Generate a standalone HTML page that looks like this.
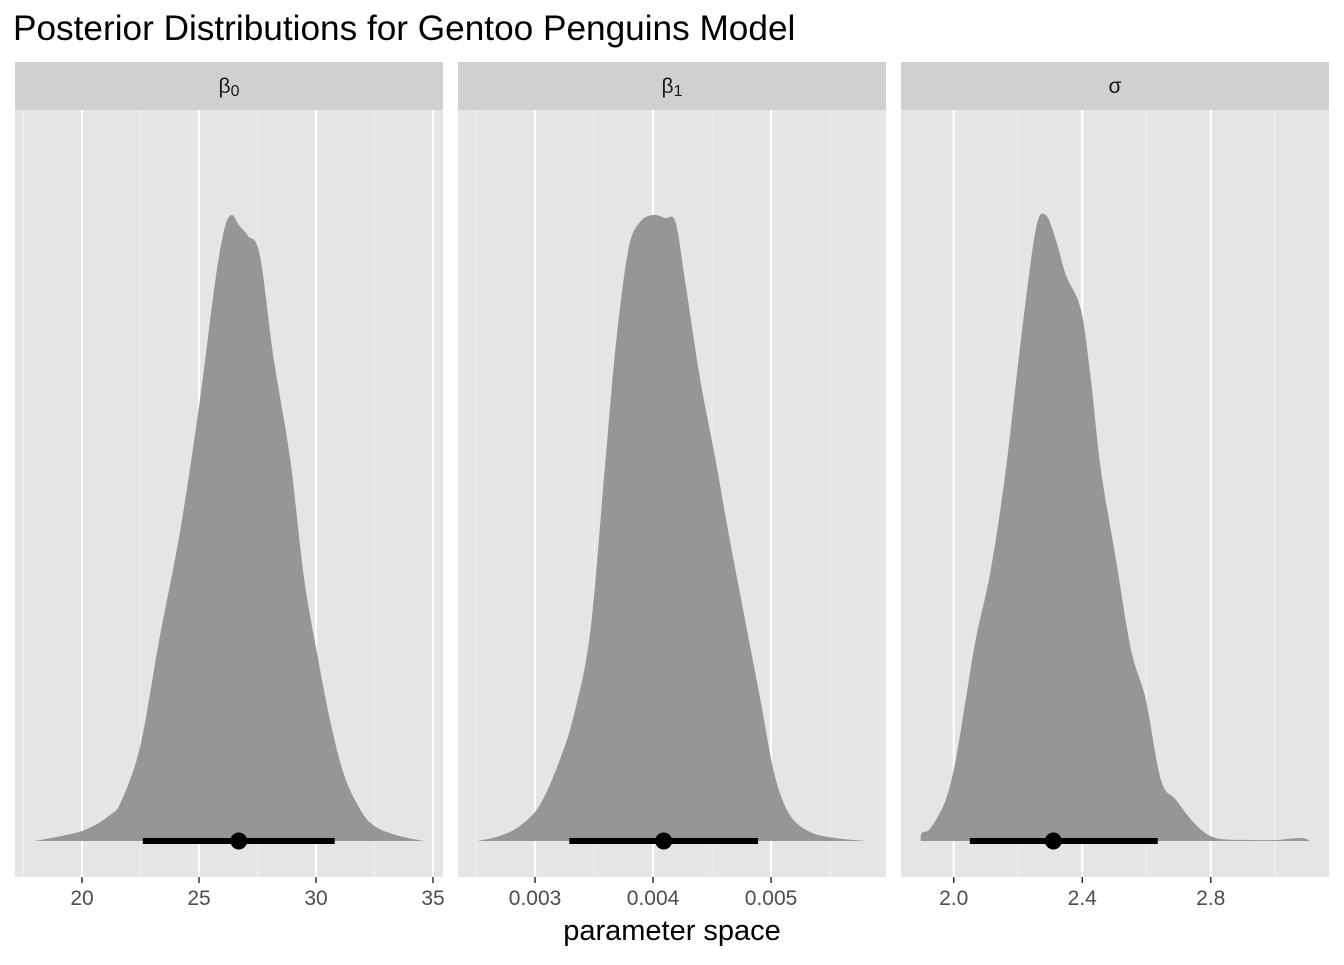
<!DOCTYPE html>
<html><head><meta charset="utf-8"><style>
body{margin:0;background:#fff;width:1344px;height:960px;overflow:hidden}
svg text{font-family:"Liberation Sans",sans-serif}
</style></head><body>
<svg id="c" width="1344" height="960">
<text x="13" y="40" font-size="35.2" fill="#000">Posterior Distributions for Gentoo Penguins Model</text>
<text x="672" y="940" font-size="29" text-anchor="middle" fill="#000">parameter space</text>
</svg>
<script>
// panel 1: beta0
const b0X=[17.99,20,21.2,21.7,22.5,23.3,24.2,25.04,25.7,26.1,26.4,26.7,27.1,27.6,28.2,28.9,29.5,30.1,30.6,31.2,31.9,32.5,33.4,34.6];
const b0D=[0,10,26,41,96,201,311,441,561,613,626,616,605,586,481,381,261,181,121,66,31,15,6,0];
const b0Ticks=[20,25,30,35];
const b0Minor=[17.5,22.5,27.5,32.5];
const b0Est=[26.7,22.6,30.8];
// panel 2: beta1
const b1X=[0.00251,0.0027,0.00287,0.00304,0.00321,0.00334,0.00347,0.00359,0.00368,0.00379,0.00389,0.004,0.0041,0.00419,0.00427,0.0044,0.00453,0.00465,0.00478,0.00491,0.00503,0.00516,0.00533,0.00554,0.0058];
const b1D=[0,5,15,36,81,131,211,371,491,591,619,626,623,619,561,461,381,301,221,141,66,26,9,3,0];
const b1Ticks=[0.003,0.004,0.005];
const b1Minor=[0.0025,0.0035,0.0045,0.0055];
const b1Est=[0.00409,0.00329,0.00489];
// panel 3: sigma
const sX=[1.897,1.9,1.928,1.975,2.006,2.037,2.068,2.115,2.162,2.209,2.255,2.286,2.318,2.349,2.396,2.427,2.458,2.505,2.552,2.598,2.645,2.692,2.754,2.816,2.925,3.0,3.08,3.11];
const sD=[0,8,13,41,81,141,201,271,371,501,611,626,601,566,531,461,371,281,191,141,61,41,16,3,1,1,3,0];
const sTicks=[2.0,2.4,2.8];
const sMinor=[2.2,2.6,3.0];
const sEst=[2.31,2.05,2.635];
const tickFmt=[v=>String(v),v=>v.toFixed(3),v=>v.toFixed(1)];
const NS='http://www.w3.org/2000/svg';
const svgEl=document.getElementById('c');
function mk(t,a,p){const e=document.createElementNS(NS,t);for(const k in a)e.setAttribute(k,a[k]);(p||svgEl).appendChild(e);return e;}
const panels=[
 {x0:15,lab:'β',sub:'0',xs:b0X,ds:b0D,ticks:b0Ticks,minor:b0Minor,est:b0Est,dom:[17.137,35.427],name:'beta0'},
 {x0:458,lab:'β',sub:'1',xs:b1X,ds:b1D,ticks:b1Ticks,minor:b1Minor,est:b1Est,dom:[0.002347,0.005974],name:'beta1'},
 {x0:901,lab:'σ',sub:'',xs:sX,ds:sD,ticks:sTicks,minor:sMinor,est:sEst,dom:[1.8357,3.1681],name:'sigma'}
];
const PW=428,PTOP=110,PBOT=877,BASE=841;
panels.forEach((p,i)=>{
 const g=mk('g',{});
 
 
 const sx=v=>p.x0+(v-p.dom[0])/(p.dom[1]-p.dom[0])*PW;
 const sy=d=>BASE-d;
 mk('rect',{x:p.x0,y:PTOP,width:PW,height:PBOT-PTOP,fill:'#e5e5e5'},g);
 const st=mk('rect',{x:p.x0,y:62,width:PW,height:48,fill:'#d0d0d0'},g);
 
 
 const t=mk('text',{x:p.x0+PW/2,y:93,'font-size':21,'text-anchor':'middle',fill:'#1a1a1a','font-family':'Liberation Serif,serif'},g);
 t.textContent=p.lab;
 if(p.sub){const s=mk('tspan',{'font-size':16,dy:3,'font-family':'Liberation Sans,sans-serif'},t);s.textContent=p.sub;}
 p.minor.forEach(v=>{const l=mk('line',{x1:sx(v),x2:sx(v),y1:PTOP,y2:PBOT,stroke:'#f2f2f2','stroke-width':1},g);
  });
 p.ticks.forEach(v=>{const l=mk('line',{x1:sx(v),x2:sx(v),y1:PTOP,y2:PBOT,stroke:'#fff','stroke-width':2},g);
  
  mk('line',{x1:sx(v),x2:sx(v),y1:PBOT,y2:PBOT+6,stroke:'#333','stroke-width':1.5},g);
  const tl=mk('text',{x:sx(v),y:905,'font-size':21,'text-anchor':'middle',fill:'#4d4d4d'},g);
  
  tl.textContent=tickFmt[i](v);});
 const P=p.xs.map((v,k)=>[sx(v),sy(p.ds[k])]);
 let d='M'+P[0][0]+','+BASE+' L'+P[0][0].toFixed(1)+','+P[0][1].toFixed(1);
 for(let k=0;k<P.length-1;k++){
  const p0=P[Math.max(k-1,0)],p1=P[k],p2=P[k+1],p3=P[Math.min(k+2,P.length-1)];
  const c1=[p1[0]+(p2[0]-p0[0])/6,p1[1]+(p2[1]-p0[1])/6],c2=[p2[0]-(p3[0]-p1[0])/6,p2[1]-(p3[1]-p1[1])/6];
  d+=' C'+c1[0].toFixed(1)+','+c1[1].toFixed(1)+' '+c2[0].toFixed(1)+','+c2[1].toFixed(1)+' '+p2[0].toFixed(1)+','+p2[1].toFixed(1);
 }
 d+=' L'+P[P.length-1][0]+','+BASE+' Z';
 const a=mk('path',{d:d,fill:'#969696'},g);
 
 const iv=mk('line',{x1:sx(p.est[1]),x2:sx(p.est[2]),y1:BASE,y2:BASE,stroke:'#000','stroke-width':6},g);
 
 const pt=mk('circle',{cx:sx(p.est[0]),cy:BASE,r:8.5,fill:'#000'},g);
 
});
</script>
</body></html>
